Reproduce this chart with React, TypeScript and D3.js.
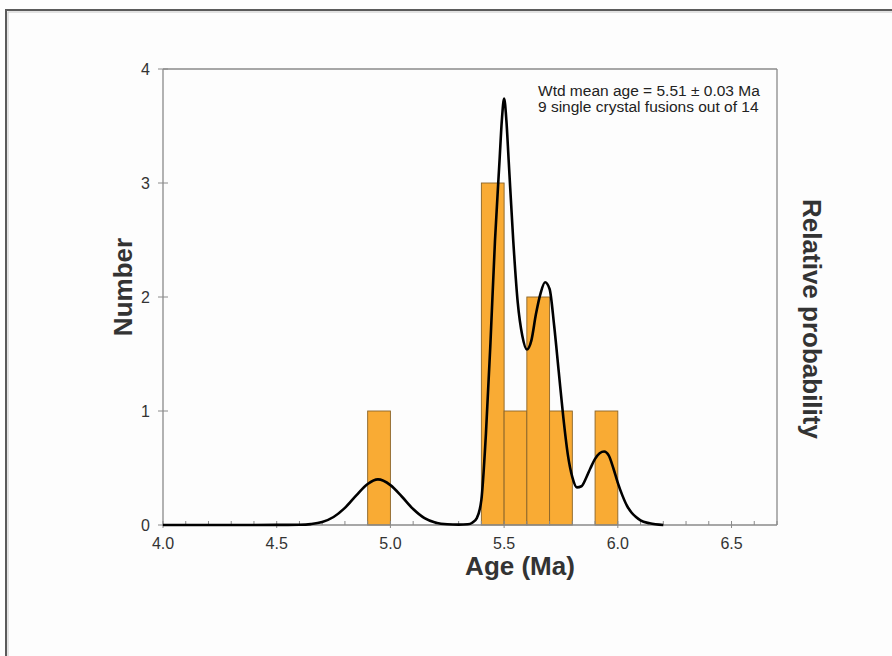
import React from "react";
import * as d3 from "d3";

// Histogram bins (Ma) and counts
const binStarts = [4.9, 5.4, 5.5, 5.6, 5.7, 5.9];
const binCounts = [1, 3, 1, 2, 1, 1];
const binWidth = 0.1;

// Relative probability curve (in "Number" units)
const curveAges = [
  4.0, 4.3, 4.5, 4.55, 4.6, 4.65, 4.7, 4.75, 4.8, 4.85, 4.9, 4.945, 5.0, 5.05, 5.1, 5.15, 5.2, 5.25, 5.3,
  5.34, 5.36, 5.38, 5.4, 5.42, 5.44, 5.46, 5.48, 5.49, 5.5, 5.51, 5.52, 5.54, 5.56, 5.58, 5.6, 5.62, 5.64,
  5.66, 5.68, 5.7, 5.72, 5.74, 5.76, 5.78, 5.8, 5.82, 5.84, 5.86, 5.88, 5.9, 5.92, 5.94, 5.96, 5.98, 6.0,
  6.02, 6.04, 6.06, 6.08, 6.1, 6.14, 6.2,
];
const curveValues = [
  0, 0, 0.001, 0.001, 0.002, 0.008, 0.026, 0.07, 0.15, 0.26, 0.36, 0.4, 0.35, 0.25, 0.14, 0.06, 0.02, 0.006, 0.003,
  0.006, 0.02, 0.06, 0.22, 0.8, 1.6, 2.5, 3.2, 3.55, 3.74, 3.55, 3.2, 2.5, 1.95, 1.66, 1.54, 1.62, 1.85,
  2.03, 2.13, 2.07, 1.75, 1.35, 0.95, 0.62, 0.42, 0.33, 0.34, 0.41, 0.5, 0.58, 0.63, 0.645, 0.61, 0.5, 0.37,
  0.26, 0.17, 0.11, 0.07, 0.04, 0.015, 0,
];

const xTickLabels = ["4.0", "4.5", "5.0", "5.5", "6.0", "6.5"];
const yTickLabels = ["0", "1", "2", "3", "4"];
const annotationLines = ["Wtd mean age = 5.51 ± 0.03 Ma", "9 single crystal fusions out of 14"];

export default function App() {
  const W = 892;
  const H = 656;
  const left = 163;
  const right = 777;
  const top = 69;
  const bottom = 525;

  const x = d3.scaleLinear().domain([4.0, 6.7]).range([left, right]);
  const y = d3.scaleLinear().domain([0, 4]).range([bottom, top]);

  const line = d3
    .line<number>()
    .x((_, i) => x(curveAges[i]))
    .y((d) => y(d))
    .curve(d3.curveMonotoneX);

  const minorTicks = d3.range(0, 28).map((i) => 4.0 + i * 0.1);
  const font = "Liberation Sans, Arial, sans-serif";
  const axisColor = "#8a8a8a";

  return (
    <svg
      width={W}
      height={H}
      style={{ position: "fixed", left: 0, top: 0, display: "block", background: "#fdfdfd" }}
    >
      <rect x={0} y={0} width={W} height={H} fill="#fdfdfd" />
      {/* outer frame */}
      <rect x={6} y={10} width={W + 20} height={H + 20} fill="none" stroke="#5a5a5a" strokeWidth={2} />
      <rect x={8} y={12} width={W + 20} height={H + 20} fill="none" stroke="#c8c8c8" strokeWidth={1} />

      {/* bars */}
      {binStarts.map((b, i) => (
        <rect
          key={i}
          x={x(b)}
          y={y(binCounts[i])}
          width={x(b + binWidth) - x(b)}
          height={y(0) - y(binCounts[i])}
          fill="#F9AB34"
          stroke="#8a6428"
          strokeWidth={0.9}
        />
      ))}

      {/* plot frame */}
      <line x1={left} x2={right} y1={top} y2={top} stroke={axisColor} strokeWidth={1.3} />
      <line x1={right} x2={right} y1={top} y2={bottom} stroke={axisColor} strokeWidth={1.3} />
      <line x1={left} x2={left} y1={top} y2={bottom + 1} stroke={axisColor} strokeWidth={1.3} />
      <line x1={left - 1} x2={right} y1={bottom} y2={bottom} stroke={axisColor} strokeWidth={1.3} />

      {/* x minor ticks */}
      {minorTicks.map((t, i) => (
        <line
          key={i}
          x1={x(t)}
          x2={x(t)}
          y1={bottom - 4}
          y2={i % 5 === 0 ? bottom + 3 : bottom}
          stroke={axisColor}
          strokeWidth={1}
        />
      ))}
      {/* y ticks */}
      {yTickLabels.map((lab, i) => (
        <g key={lab}>
          <line x1={left - 5} x2={left + 5} y1={y(i)} y2={y(i)} stroke={axisColor} strokeWidth={1} />
          <text
            x={left - 13}
            y={y(i)}
            dy="0.35em"
            textAnchor="end"
            fontFamily={font}
            fontSize={16}
            fill="#333"
          >
            {lab}
          </text>
        </g>
      ))}
      {xTickLabels.map((lab) => (
        <text
          key={lab}
          x={x(+lab)}
          y={bottom + 18}
          dy="0.35em"
          textAnchor="middle"
          fontFamily={font}
          fontSize={16}
          fill="#333"
        >
          {lab}
        </text>
      ))}

      {/* probability curve */}
      <path d={line(curveValues) || ""} fill="none" stroke="#000" strokeWidth={2.6} strokeLinejoin="round" />

      {/* annotation */}
      {annotationLines.map((t, i) => (
        <text key={i} x={538} y={96 + i * 16} fontFamily={font} fontSize={15.5} fill="#222">
          {t}
        </text>
      ))}

      {/* axis titles */}
      <text
        x={520}
        y={575}
        textAnchor="middle"
        fontFamily={font}
        fontWeight="bold"
        fontSize={26}
        fill="#333"
      >
        Age (Ma)
      </text>
      <text
        transform="translate(132,287) rotate(-90)"
        textAnchor="middle"
        fontFamily={font}
        fontWeight="bold"
        fontSize={26}
        fill="#333"
      >
        Number
      </text>
      <text
        transform="translate(803,319) rotate(90)"
        textAnchor="middle"
        fontFamily={font}
        fontWeight="bold"
        fontSize={26}
        fill="#333"
      >
        Relative probability
      </text>
    </svg>
  );
}
